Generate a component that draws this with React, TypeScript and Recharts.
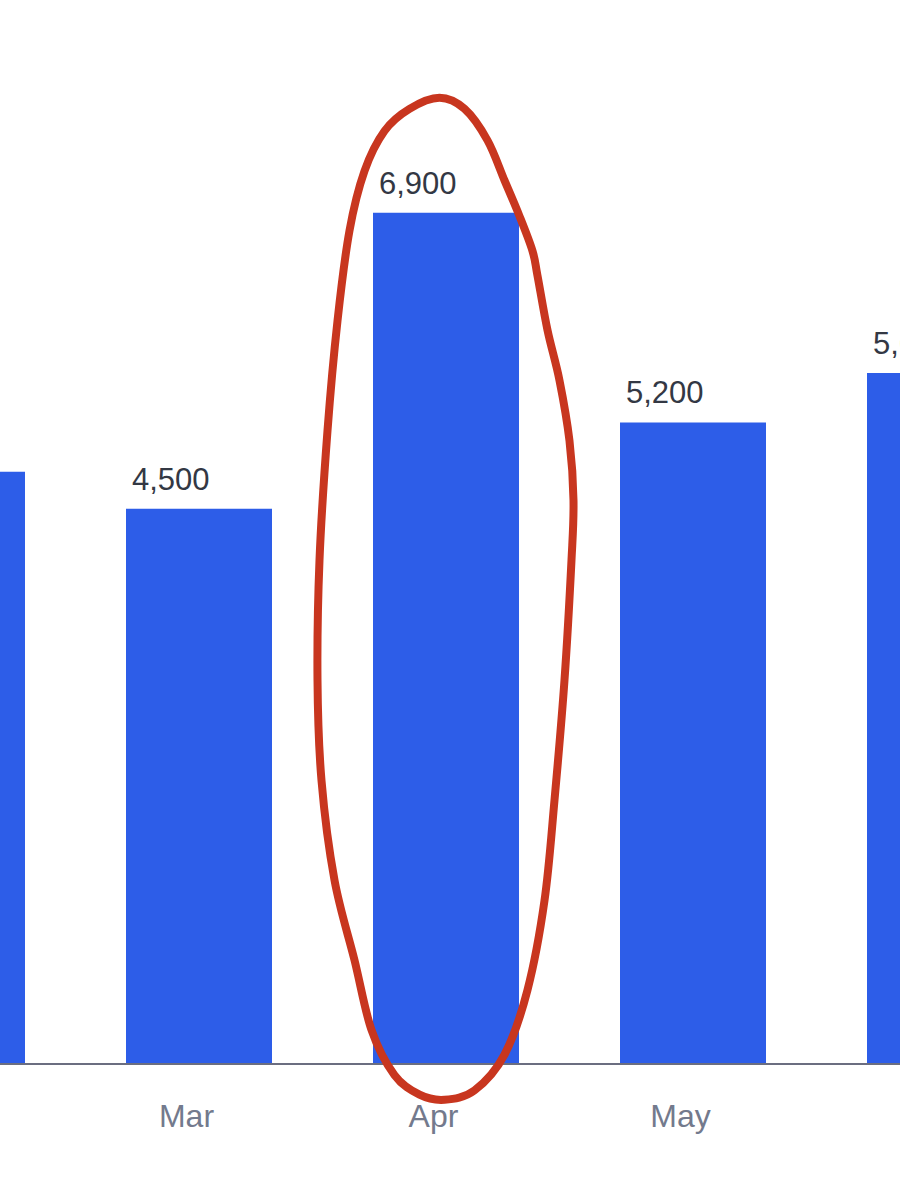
import React from "react";
import { BarChart, Bar, XAxis, YAxis, LabelList, ReferenceArea } from "recharts";

const months = ["Jan", "Feb", "Mar", "Apr", "May", "Jun"];
const sales = [4300, 4800, 4500, 6900, 5200, 5600];
const highlightMonth = "Apr";
const yDomain = [0, 8000];

const data = months.map((m, i) => ({ month: m, sales: sales[i] }));

const FONT = "'Liberation Sans', Arial, Helvetica, sans-serif";
const BAR_COLOR = "#2d5de8";
const RED = "#c8361f";

// hand-drawn loop outline: dx from band centre (px), t as fraction of bar height from its top
const loop: [number, number][] = [
  [-6, -0.135], [-36, -0.122], [-61, -0.096], [-81, -0.049], [-96, 0.021],
  [-108, 0.127], [-118, 0.256], [-126, 0.408], [-128, 0.549], [-124, 0.667],
  [-111, 0.784], [-91, 0.878], [-74, 0.96], [-51, 1.013], [-26, 1.036],
  [-1, 1.042], [29, 1.031], [59, 0.989], [82, 0.913], [99, 0.808],
  [109, 0.69], [119, 0.549], [126, 0.408], [128, 0.338], [124, 0.268],
  [114, 0.197], [102, 0.138], [92, 0.074], [87, 0.045], [74, 0.004],
  [59, -0.038], [42, -0.085], [19, -0.122],
];

function smoothClosed(pts: [number, number][]) {
  const n = pts.length;
  let d = `M${pts[0][0]},${pts[0][1]}`;
  for (let i = 0; i < n; i++) {
    const p0 = pts[(i - 1 + n) % n];
    const p1 = pts[i];
    const p2 = pts[(i + 1) % n];
    const p3 = pts[(i + 2) % n];
    const c1x = p1[0] + (p2[0] - p0[0]) / 6;
    const c1y = p1[1] + (p2[1] - p0[1]) / 6;
    const c2x = p2[0] - (p3[0] - p1[0]) / 6;
    const c2y = p2[1] - (p3[1] - p1[1]) / 6;
    d += ` C${c1x},${c1y} ${c2x},${c2y} ${p2[0]},${p2[1]}`;
  }
  return d + " Z";
}

const LoopShape = (props: any) => {
  const { x, y, width, height } = props;
  const cx = x + width / 2;
  const pts = loop.map(([dx, t]) => [cx + dx, y + t * height] as [number, number]);
  return (
    <path
      d={smoothClosed(pts)}
      fill="none"
      stroke={RED}
      strokeWidth={8}
      strokeLinejoin="round"
      strokeLinecap="round"
    />
  );
};

const Tick = (props: any) => {
  const { x, y, payload } = props;
  return (
    <text x={x - 12} y={y + 63} textAnchor="middle" fill="#737a8d" fontSize={32} fontFamily={FONT}>
      {payload.value}
    </text>
  );
};

const ValueLabel = (props: any) => {
  const { x, y, value } = props;
  return (
    <text x={x + 6} y={y - 19} textAnchor="start" fill="#333844" fontSize={31} fontFamily={FONT}>
      {Number(value).toLocaleString("en-US")}
    </text>
  );
};

export default function App() {
  return (
    <div
      style={{
        position: "fixed",
        left: 0,
        top: 0,
        width: 900,
        height: 1200,
        overflow: "hidden",
        background: "#ffffff",
      }}
    >
      <div style={{ position: "absolute", left: -419.5, top: 0 }}>
        <BarChart
          width={1482}
          height={1200}
          data={data}
          margin={{ top: 77, right: 0, bottom: 0, left: 0 }}
        >
          <XAxis
            dataKey="month"
            height={136}
            tickLine={false}
            tickSize={0}
            tickMargin={0}
            axisLine={{ stroke: "#6b6e80", strokeWidth: 2 }}
            tick={<Tick />}
            interval={0}
          />
          <YAxis hide domain={yDomain} />
          <Bar dataKey="sales" fill={BAR_COLOR} barSize={146} isAnimationActive={false}>
            <LabelList dataKey="sales" content={<ValueLabel />} />
          </Bar>
          <ReferenceArea
            x1={highlightMonth}
            x2={highlightMonth}
            y1={0}
            y2={sales[months.indexOf(highlightMonth)]}
            ifOverflow="visible"
            zIndex={1500}
            shape={<LoopShape />}
          />
        </BarChart>
      </div>
    </div>
  );
}
